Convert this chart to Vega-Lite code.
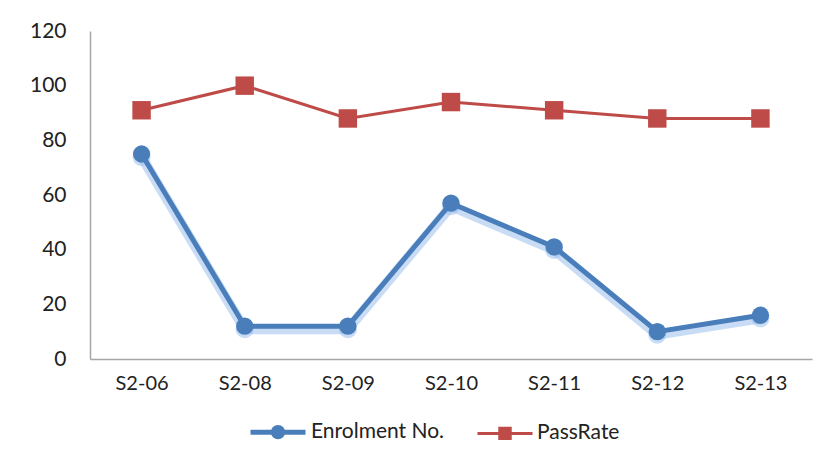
{
  "$schema": "https://vega.github.io/schema/vega-lite/v6.json",
  "width": 722,
  "height": 328,
  "autosize": {"type": "none"},
  "padding": {"left": 90, "top": 31, "right": 21, "bottom": 97},
  "background": "white",
  "config": {
    "view": {"stroke": null},
    "font": "Lato",
    "axis": {"grid": false, "ticks": false, "domainColor": "#a6a6a6", "domainWidth": 1.5, "labelColor": "#222222", "labelFont": "Lato", "title": null}
  },
  "data": {
    "values": [
      {"term": "S2-06", "series": "Enrolment No.", "value": 75},
      {"term": "S2-08", "series": "Enrolment No.", "value": 12},
      {"term": "S2-09", "series": "Enrolment No.", "value": 12},
      {"term": "S2-10", "series": "Enrolment No.", "value": 57},
      {"term": "S2-11", "series": "Enrolment No.", "value": 41},
      {"term": "S2-12", "series": "Enrolment No.", "value": 10},
      {"term": "S2-13", "series": "Enrolment No.", "value": 16},
      {"term": "S2-06", "series": "PassRate", "value": 91},
      {"term": "S2-08", "series": "PassRate", "value": 100},
      {"term": "S2-09", "series": "PassRate", "value": 88},
      {"term": "S2-10", "series": "PassRate", "value": 94},
      {"term": "S2-11", "series": "PassRate", "value": 91},
      {"term": "S2-12", "series": "PassRate", "value": 88},
      {"term": "S2-13", "series": "PassRate", "value": 88}
    ]
  },
  "encoding": {
    "x": {
      "field": "term", "type": "nominal", "sort": null,
      "scale": {"paddingInner": 0, "paddingOuter": 0},
      "axis": {"labelAngle": 0, "labelFontSize": 20, "labelPadding": 14}
    },
    "y": {
      "field": "value", "type": "quantitative",
      "scale": {"domain": [0, 120], "nice": false},
      "axis": {"values": [0, 20, 40, 60, 80, 100, 120], "labelFontSize": 21, "labelPadding": 24}
    }
  },
  "layer": [
    {
      "transform": [{"filter": "datum.series === 'Enrolment No.'"}],
      "mark": {"type": "line", "strokeWidth": 10, "color": "#9cc0ec", "opacity": 0.55, "yOffset": 3, "strokeCap": "round"}
    },
    {
      "transform": [{"filter": "datum.series === 'Enrolment No.'"}],
      "mark": {"type": "point", "filled": true, "shape": "circle", "size": 330, "color": "#9cc0ec", "opacity": 0.55, "yOffset": 3}
    },
    {
      "mark": {"type": "line"},
      "encoding": {
        "color": {
          "field": "series", "type": "nominal",
          "scale": {"domain": ["Enrolment No.", "PassRate"], "range": ["#4A7EBB", "#BE4B48"]},
          "legend": {
            "title": null, "orient": "none", "direction": "horizontal",
            "legendX": 158, "legendY": 371,
            "labelFontSize": 21, "labelColor": "#222222", "labelFont": "Lato",
            "symbolSize": 3025, "symbolStrokeWidth": 3.5, "columnPadding": 26, "labelOffset": 3,
            "encode": {
              "symbols": {
                "update": {
                  "shape": {"signal": "datum.value === 'PassRate' ? 'M-1,0L1,0M-0.19,-0.19L0.19,-0.19L0.19,0.19L-0.19,0.19Z' : 'M-1,0L1,0M0.17,0A0.17,0.17 0 1 1 -0.17,0A0.17,0.17 0 1 1 0.17,0Z'"},
                  "stroke": {"signal": "datum.value === 'PassRate' ? '#BE4B48' : '#4A7EBB'"},
                  "fill": {"signal": "datum.value === 'PassRate' ? '#BE4B48' : '#4A7EBB'"},
                  "strokeWidth": {"value": 3.5},
                  "opacity": {"value": 1}
                }
              }
            }
          }
        },
        "strokeWidth": {
          "field": "series", "type": "nominal",
          "scale": {"domain": ["Enrolment No.", "PassRate"], "range": [5, 3]},
          "legend": null
        }
      }
    },
    {
      "transform": [{"filter": "datum.series === 'Enrolment No.'"}],
      "mark": {"type": "point", "filled": true, "opacity": 1, "shape": "circle", "size": 300, "color": "#4A7EBB"}
    },
    {
      "transform": [{"filter": "datum.series === 'PassRate'"}],
      "mark": {"type": "point", "filled": true, "opacity": 1, "shape": "square", "size": 340, "color": "#BE4B48"}
    }
  ]
}
